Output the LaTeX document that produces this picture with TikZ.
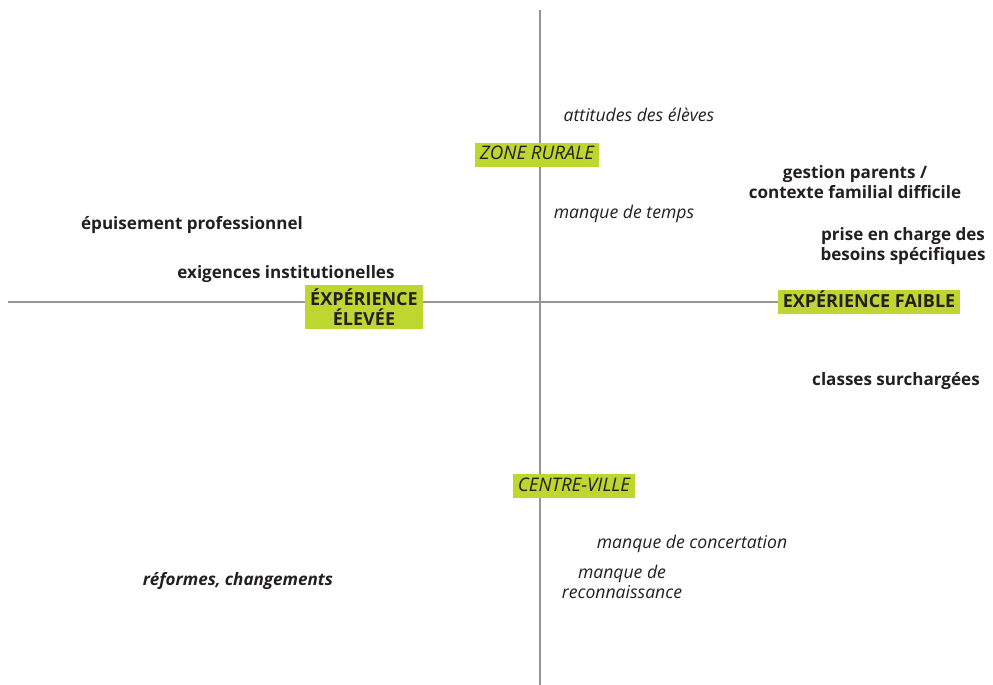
\documentclass[tikz,border=0pt]{standalone}
\usepackage{fontspec}
\setmainfont{Open Sans}
\definecolor{lime}{RGB}{190,214,48}
\definecolor{ink}{RGB}{35,31,32}
\definecolor{axis}{RGB}{150,150,150}
\begin{document}
\begin{tikzpicture}[x=0.75pt,y=-0.75pt,
        every node/.style = {text=ink, font=\fontsize{12}{15}\selectfont},
        pole/.style = {fill=lime, inner xsep=3.6pt, inner ysep=3.1pt, text height=10pt, text depth=2.5pt,
                       align=center, font=\fontsize{13.5}{15.5}\selectfont\bfseries},
        strong/.style = {align=center, font=\fontsize{12.8}{15.5}\selectfont\bfseries},
        soft/.style = {align=center, font=\fontsize{13.2}{15.5}\selectfont\itshape}]
    \useasboundingbox (0,0) rectangle (993,685);
    % axes
    \coordinate (top) at (540,10);
    \coordinate (bottom) at (540,685);
    \coordinate (left) at (8,302);
    \coordinate (right) at (960,302);
    \draw[axis, line width=0.9pt] (top) -- (bottom)
                                  (left) -- (right);
    % poles
    \node[pole, font=\fontsize{14}{15.5}\selectfont\itshape] (rural) at (537,155) {ZONE RURALE};
    \node[pole, font=\fontsize{14}{15.5}\selectfont\itshape] (city) at (574,486) {CENTRE-VILLE};
    \node[pole, text height=, text depth=, inner ysep=2.5pt] (high) at (364,307) {ÉXPÉRIENCE\\ÉLEVÉE};
    \node[pole] (low) at (869,302) {EXPÉRIENCE FAIBLE};
    % factors
    \node[soft] (pupils) at (639,115) {attitudes des élèves};
    \node[strong] (parents) at (855,182) {gestion parents /\\contexte familial difficile};
    \node[soft] (time) at (624,214) {manque de temps};
    \node[strong] (burnout) at (192,225) {épuisement professionnel};
    \node[strong] (needs) at (903,246) {prise en charge des\\besoins spécifiques};
    \node[strong] (demands) at (286,274) {exigences institutionelles};
    \node[strong] (classes) at (896,381) {classes surchargées};
    \node[soft] (concert) at (692,544) {manque de concertation};
    \node[soft] (recog) at (622,582) {manque de\\reconnaissance};
    \node[strong, font=\fontsize{12.8}{15.5}\selectfont\bfseries\itshape] (reforms) at (238,581) {réformes, changements};
\end{tikzpicture}
\end{document}
